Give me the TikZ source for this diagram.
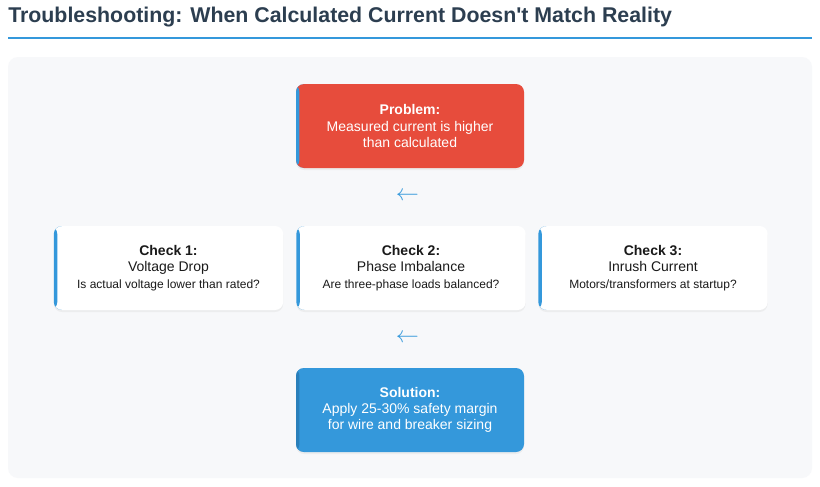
\documentclass[tikz,border=0pt]{standalone}
\usepackage{fontspec}
\setmainfont{Liberation Sans}
\usetikzlibrary{shadows}
\definecolor{titleink}{HTML}{2C3E50}
\definecolor{accent}{HTML}{3498DB}
\definecolor{accentdk}{HTML}{2A7FBA}
\definecolor{alarm}{HTML}{E74C3C}
\definecolor{panel}{HTML}{F7F8FA}
\definecolor{ink}{HTML}{1A1A1A}
\begin{document}
\begin{tikzpicture}[x=0.75pt,y=-0.75pt,
  card/.style={rounded corners=6pt, minimum width=171pt, minimum height=63pt,
    align=center, inner sep=0pt, font=\fontsize{10.5}{12.2}\selectfont,
    drop shadow={shadow xshift=0pt,shadow yshift=-1.5pt,opacity=0.09}},
  edge/.style={path picture={\fill[#1] (path picture bounding box.south west)
    rectangle ([xshift=2.6pt]path picture bounding box.north west);}},
  checkbox/.style={card, fill=white, text=ink, edge=accent, minimum width=172pt},
  flowarrow/.style={text=accent, inner sep=0pt, font=\fontsize{19}{19}\selectfont}]
\useasboundingbox (0,0) rectangle (820,486);
\fill[white] (0,0) rectangle (820,486);
% heading
\node [anchor=base west, inner sep=0pt, text=titleink, font=\bfseries\fontsize{16}{19}\selectfont] (title) at (8,22) {Troubleshooting: When Calculated Current Doesn\textquotesingle t Match Reality};
\draw [accent, line width=1.5pt] (8,37.5) -- (812,37.5);
\fill [panel, rounded corners=7.5pt] (8,57) rectangle (812,478);
% problem
\node [card, fill=alarm, text=white, edge=accent] (problem) at (410,126) {\textbf{Problem:}\\Measured current is higher\\than calculated};
\node [flowarrow] (arrA) at (407.5,196) {$\leftarrow$};
% checks
\node [checkbox] (check1) at (168.5,268) {\textbf{Check 1:}\\Voltage Drop\\{\fontsize{9}{11}\selectfont Is actual voltage lower than rated?}};
\node [checkbox] (check2) at (411,268) {\textbf{Check 2:}\\Phase Imbalance\\{\fontsize{9}{11}\selectfont Are three-phase loads balanced?}};
\node [checkbox] (check3) at (653,268) {\textbf{Check 3:}\\Inrush Current\\{\fontsize{9}{11}\selectfont Motors/transformers at startup?}};
\node [flowarrow] (arrB) at (407.5,338) {$\leftarrow$};
% solution
\node [card, fill=accent, text=white, edge=accentdk] (solution) at (410,410) {\textbf{Solution:}\\Apply 25-30\% safety margin\\for wire and breaker sizing};
\end{tikzpicture}
\end{document}
